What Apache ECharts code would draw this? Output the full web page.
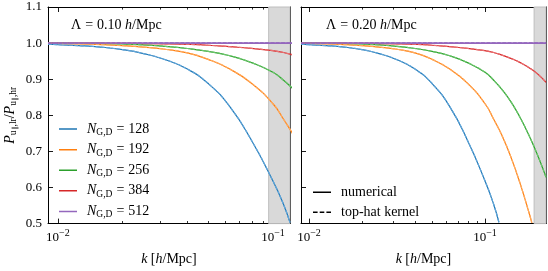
<!DOCTYPE html>
<html>
<head>
<meta charset="utf-8">
<script src="https://cdn.jsdelivr.net/npm/echarts@6/dist/echarts.min.js"></script>
<style>html,body{margin:0;padding:0;background:#fff;}#chart{width:548px;height:271px;}</style>
</head>
<body>
<div id="chart"></div>
<script>
// ---- data (same curves appear in both panels; null = no reading at that k) ----
const kGrid = [0.009, 0.01, 0.0125, 0.0158, 0.02, 0.025, 0.0316, 0.04, 0.05, 0.063, 0.0794, 0.1, 0.112, 0.12, 0.1259, 0.1413, 0.1585, 0.1778, 0.1845, 0.1995, 0.2223];
const ratioN128 = [0.997, 0.9955, 0.993, 0.989, 0.982, 0.971, 0.954, 0.928, 0.888, 0.824, 0.731, 0.618, 0.553, 0.503, null, null, null, null, null, null, null];
const ratioN192 = [0.9995, 0.999, 0.998, 0.996, 0.993, 0.989, 0.983, 0.973, 0.955, 0.928, 0.889, 0.832, 0.789, null, 0.740, 0.680, 0.610, 0.530, 0.502, null, null];
const ratioN256 = [1.0, 0.9998, 0.9995, 0.999, 0.9975, 0.995, 0.991, 0.985, 0.977, 0.965, 0.946, 0.919, 0.897, null, 0.869, 0.835, 0.793, 0.744, null, 0.688, 0.628];
const ratioN384 = [1.0, 1.0, 1.0, 0.9997, 0.9993, 0.9988, 0.998, 0.9965, 0.994, 0.990, 0.9855, 0.979, 0.974, null, 0.966, 0.957, 0.946, 0.932, null, 0.914, 0.891];
const ratioN512 = [1, 1, 1, 1, 1, 1, 1, 1, 1, 1, 1, 1, 1, null, 1, 1, 1, 1, null, 1, 1];

const gridSizes = ['128', '192', '256', '384', '512'];
const lambdaLabels = ['0.10', '0.20'];
const xRangeLeft = [0.009, 0.12];
const xRangeRight = [0.009, 0.222];
const shadeLeft = [0.0955, 0.12];
const shadeRight = [0.19, 0.222];
const yTicks = [0.5, 0.6, 0.7, 0.8, 0.9, 1.0, 1.1];
const xMajorTicks = [0.01, 0.1];
const xMinorTicksLeft = [0.02, 0.03, 0.04, 0.05, 0.06, 0.07, 0.08, 0.09];
const xMinorTicksRight = [0.02, 0.03, 0.04, 0.05, 0.06, 0.07, 0.08, 0.09, 0.2];
const legendStyles = ['numerical', 'top-hat kernel'];

// ---- styling ----
const FONT = 'Liberation Serif';
const colors = ['#1f77b4', '#ff7f0e', '#2ca02c', '#d62728', '#9467bd'];
const dashColors = ['#62a6da', '#ffab60', '#6cc66c', '#ea7071', '#9467bd'];
const ICON_SOLID = 'path://M0,0h0.01v0.01h-0.01z M0,6.3h18v1.5h-18z M18,14h-0.01v-0.01h0.01z';
const ICON_DASH = 'path://M0,0h0.01v0.01h-0.01z M0,6.3h4.6v1.5h-4.6z M6.7,6.3h4.6v1.5h-4.6z M13.4,6.3h4.6v1.5h-4.6z M18,14h-0.01v-0.01h0.01z';

const chart = echarts.init(document.getElementById('chart'), null, {renderer: 'canvas'});

const grids = [
  {left: 47, top: 7, width: 243, height: 223},
  {left: 301, top: 7, width: 245, height: 223}
];

const supRich = {
  sup: {fontFamily: FONT, fontSize: 10, padding: [0, 0, 9, 0], lineHeight: 14, color: '#000'},
  n: {fontFamily: FONT, fontSize: 13, lineHeight: 14, color: '#000'}
};

function xAxes(gi, range, minor) {
  const base = {
    type: 'log', logBase: 10, gridIndex: gi, min: range[0], max: range[1],
    splitLine: {show: false}, minorTick: {show: false}, minorSplitLine: {show: false}
  };
  const line = {show: true, onZero: false, lineStyle: {color: '#000', width: 1}};
  return [
    Object.assign({}, base, {
      position: 'bottom', axisLine: line,
      axisTick: {show: true, inside: true, length: 5, customValues: xMajorTicks, lineStyle: {color: '#000', width: 0.9}},
      axisLabel: {
        show: true, customValues: xMajorTicks, margin: 7,
        formatter: v => (v < 0.05 ? '{n|10}{sup|−2}' : '{n|10}{sup|−1}'),
        rich: supRich, color: '#000'
      },
      name: '{i|k} {n|[}{i|h}{n|/Mpc]}', nameLocation: 'middle', nameGap: 25,
      nameTextStyle: {
        rich: {
          i: {fontFamily: FONT, fontStyle: 'italic', fontSize: 14, color: '#000'},
          n: {fontFamily: FONT, fontSize: 14, color: '#000'}
        }
      }
    }),
    Object.assign({}, base, {
      position: 'bottom', axisLine: {show: false},
      axisTick: {show: true, inside: true, length: 2.6, customValues: minor, lineStyle: {color: '#000', width: 0.8}},
      axisLabel: {show: false}
    }),
    Object.assign({}, base, {
      position: 'top', axisLine: line,
      axisTick: {show: true, inside: true, length: 5, customValues: xMajorTicks, lineStyle: {color: '#000', width: 0.9}},
      axisLabel: {show: false}
    }),
    Object.assign({}, base, {
      position: 'top', axisLine: {show: false},
      axisTick: {show: true, inside: true, length: 2.6, customValues: minor, lineStyle: {color: '#000', width: 0.8}},
      axisLabel: {show: false}
    })
  ];
}

function yAxes(gi, labels) {
  const base = {
    type: 'value', gridIndex: gi, min: yTicks[0], max: yTicks[yTicks.length - 1], interval: 0.1,
    splitLine: {show: false},
    axisLine: {show: true, onZero: false, lineStyle: {color: '#000', width: 1}},
    axisTick: {show: true, inside: true, length: 5, lineStyle: {color: '#000', width: 0.9}}
  };
  const left = Object.assign({}, base, {
    position: 'left',
    axisLabel: {show: labels, margin: 6, color: '#000', fontFamily: FONT, fontSize: 13, formatter: v => v.toFixed(1)}
  });
  if (labels) {
    left.name = '{i|P}{s|u}{ss|∥}{s|,lr}{n|/}{i|P}{s|u}{ss|∥}{s|,hr}';
    left.nameLocation = 'middle';
    left.nameRotate = 90;
    left.nameGap = 31;
    left.nameTextStyle = {
      rich: {
        i: {fontFamily: FONT, fontStyle: 'italic', fontSize: 14, lineHeight: 14, color: '#000'},
        n: {fontFamily: FONT, fontSize: 14, lineHeight: 14, color: '#000'},
        s: {fontFamily: FONT, fontSize: 9.5, lineHeight: 14, padding: [7, 0, 0, 0], color: '#000'},
        ss: {fontFamily: FONT, fontSize: 7, lineHeight: 14, padding: [11, 0, 0, 0], color: '#000'}
      }
    };
  }
  const right = Object.assign({}, base, {position: 'right', axisLabel: {show: false}});
  return [left, right];
}

const xAxis = [].concat(xAxes(0, xRangeLeft, xMinorTicksLeft), xAxes(1, xRangeRight, xMinorTicksRight));
const yAxis = [].concat(yAxes(0, true), yAxes(1, false));

function pairs(ks, vs) {
  const out = [];
  for (let i = 0; i < ks.length; i++) if (vs[i] !== null) out.push([ks[i], vs[i]]);
  return out;
}

const curves = [ratioN128, ratioN192, ratioN256, ratioN384, ratioN512];
const series = [];
function addPanel(gi, shade) {
  const xi = gi * 4, yi = gi * 2;
  series.push({
    type: 'line', name: 'shade' + gi, xAxisIndex: xi, yAxisIndex: yi, data: [], z: 1,
    silent: true, symbol: 'none',
    markArea: {
      silent: true,
      itemStyle: {color: '#d9d9d9', borderColor: '#bebebe', borderWidth: 1},
      data: [[{xAxis: shade[0]}, {xAxis: shade[1]}]]
    }
  });
  curves.forEach((vals, ci) => {
    const d = pairs(kGrid, vals);
    series.push({
      type: 'line', name: 'N' + gridSizes[ci], xAxisIndex: xi, yAxisIndex: yi, data: d,
      symbol: 'none', smooth: 0.5, z: 3, silent: true, clip: true,
      lineStyle: {color: colors[ci], width: ci === 4 ? 1.6 : 1.2},
      itemStyle: {color: colors[ci]}
    });
    series.push({
      type: 'line', name: 'dash' + gi + '_' + ci, xAxisIndex: xi, yAxisIndex: yi, data: d,
      symbol: 'none', smooth: 0.5, z: 4, silent: true, clip: true,
      lineStyle: {color: dashColors[ci], width: ci === 4 ? 1.6 : 1.2, type: [3.7, 1.6]}
    });
  });
}
addPanel(0, shadeLeft);
addPanel(1, shadeRight);
series.push({type: 'line', name: legendStyles[0], xAxisIndex: 4, yAxisIndex: 2, data: [], symbol: 'none',
  lineStyle: {color: '#000', width: 1.3}, itemStyle: {color: '#000'}});
series.push({type: 'line', name: legendStyles[1], xAxisIndex: 4, yAxisIndex: 2, data: [], symbol: 'none',
  lineStyle: {color: '#000', width: 1.3, type: [3.7, 1.6]}, itemStyle: {color: '#000'}});

const legendRich = {
  g: {width: 5, fontSize: 14, lineHeight: 14},
  i: {fontFamily: FONT, fontStyle: 'italic', fontSize: 14, lineHeight: 14, color: '#000'},
  s: {fontFamily: FONT, fontSize: 9.5, lineHeight: 14, padding: [7, 0, 0, 0], color: '#000'},
  e: {fontFamily: FONT, fontSize: 14, lineHeight: 14, padding: [0, 4, 0, 4], color: '#000'},
  n: {fontFamily: FONT, fontSize: 14, lineHeight: 14, color: '#000'}
};

const option = {
  animation: false,
  backgroundColor: '#fff',
  grid: grids,
  xAxis: xAxis,
  yAxis: yAxis,
  title: lambdaLabels.map((l, i) => ({
    text: '{n|Λ}{e|=}{n|' + l + ' }{i|h}{n|/Mpc}',
    left: i === 0 ? 71 : 326, top: 18, padding: 0,
    textStyle: {
      fontWeight: 'normal',
      rich: {
        n: {fontFamily: FONT, fontWeight: 'normal', fontSize: 14, color: '#000'},
        e: {fontFamily: FONT, fontWeight: 'normal', fontSize: 14, padding: [0, 4, 0, 4], color: '#000'},
        i: {fontFamily: FONT, fontWeight: 'normal', fontStyle: 'italic', fontSize: 14, color: '#000'}
      }
    }
  })),
  legend: [
    {
      orient: 'vertical', left: 59, top: 120.5, itemWidth: 18, itemHeight: 14, itemGap: 3.6,
      selectedMode: false, padding: 0,
      data: gridSizes.map((n, i) => ({name: 'N' + n, icon: ICON_SOLID, itemStyle: {color: colors[i]}})),
      formatter: name => '{g| }{i|N}{s|G,D}{e|=}{n|' + name.slice(1) + '}',
      textStyle: {rich: legendRich}
    },
    {
      orient: 'vertical', left: 313, top: 185.3, itemWidth: 18, itemHeight: 14, itemGap: 6,
      selectedMode: false, padding: 0,
      data: [
        {name: legendStyles[0], icon: ICON_SOLID, itemStyle: {color: '#000'}},
        {name: legendStyles[1], icon: ICON_DASH, itemStyle: {color: '#000'}}
      ],
      formatter: name => '{g| }{n|' + name + '}',
      textStyle: {rich: legendRich}
    }
  ],
  series: series
};
chart.setOption(option);
</script>
</body>
</html>
